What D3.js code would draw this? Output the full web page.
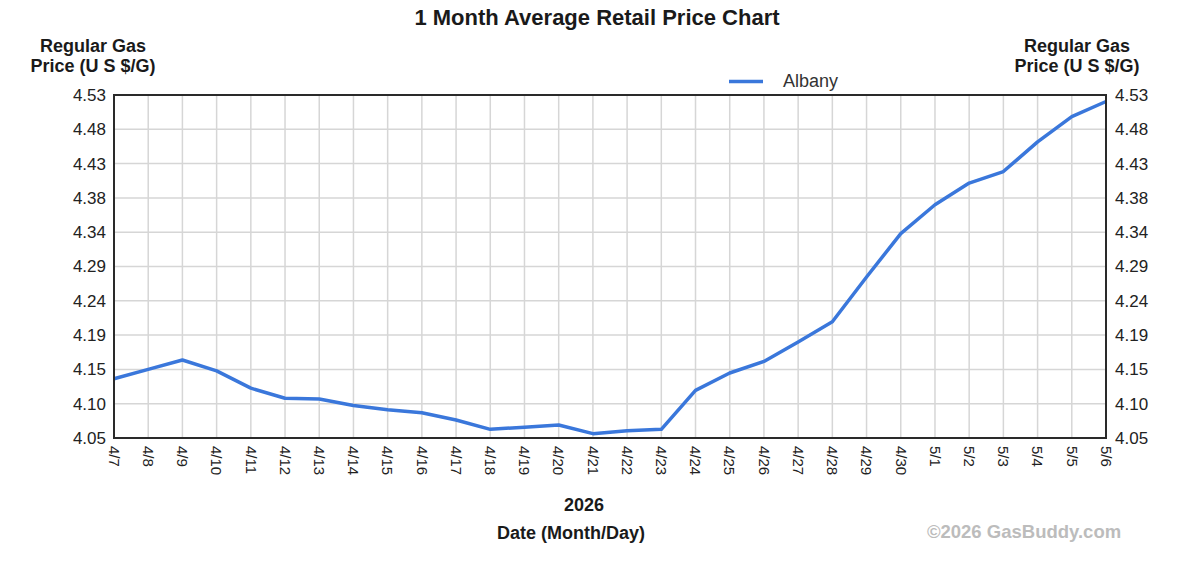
<!DOCTYPE html>
<html>
<head>
<meta charset="utf-8">
<script src="https://cdn.jsdelivr.net/npm/d3@7"></script>
<style>
  html, body { margin: 0; padding: 0; background: #fff; }
  svg { display: block; font-family: "Liberation Sans", Arial, sans-serif; }
</style>
</head>
<body>
<svg id="chart" width="1200" height="572"></svg>
<script>
const dates = ["4/7","4/8","4/9","4/10","4/11","4/12","4/13","4/14","4/15","4/16","4/17","4/18","4/19","4/20","4/21","4/22","4/23","4/24","4/25","4/26","4/27","4/28","4/29","4/30","5/1","5/2","5/3","5/4","5/5","5/6"];
const albany = [4.132,4.145,4.158,4.143,4.119,4.105,4.104,4.095,4.089,4.085,4.075,4.062,4.065,4.068,4.056,4.060,4.062,4.116,4.140,4.156,4.183,4.211,4.273,4.333,4.373,4.403,4.419,4.460,4.495,4.516];
const yTickLabels = ["4.05","4.10","4.15","4.19","4.24","4.29","4.34","4.38","4.43","4.48","4.53"];
const yMin = 4.05, yMax = 4.525;
const seriesName = "Albany";
const title = "1 Month Average Retail Price Chart";
const yAxisTitle = ["Regular Gas", "Price (U S $/G)"];
const yearLabel = "2026";
const xAxisTitle = "Date (Month/Day)";
const credit = "\u00A92026 GasBuddy.com";

const svg = d3.select("#chart");
const L = 114, R = 1106, T = 95, B = 438;
const lineColor = "#3a77db";

const x = d3.scalePoint().domain(dates).range([L, R]);
const y = d3.scaleLinear().domain([yMin, yMax]).range([B, T]);
const step = (yMax - yMin) / (yTickLabels.length - 1);
const yTicks = yTickLabels.map((lab, i) => ({ v: yMin + i * step, lab }));

// grid
const grid = svg.append("g");
grid.selectAll("line.v").data(dates).join("line")
  .attr("x1", d => x(d)).attr("x2", d => x(d))
  .attr("y1", T).attr("y2", B)
  .attr("stroke", "#d6d6d6").attr("stroke-width", 1.5);
grid.selectAll("line.h").data(yTicks).join("line")
  .attr("x1", L).attr("x2", R)
  .attr("y1", d => y(d.v)).attr("y2", d => y(d.v))
  .attr("stroke", "#d6d6d6").attr("stroke-width", 1.5);

// line
const line = d3.line().x((d, i) => x(dates[i])).y(d => y(d));
svg.append("path").datum(albany)
  .attr("d", line).attr("fill", "none")
  .attr("stroke", lineColor).attr("stroke-width", 3.5)
  .attr("stroke-linejoin", "round");

// border
svg.append("rect").attr("x", L).attr("y", T).attr("width", R - L).attr("height", B - T)
  .attr("fill", "none").attr("stroke", "#2a2a2a").attr("stroke-width", 2);

// y tick labels
const yl = svg.append("g").attr("font-size", 17).attr("fill", "#222");
yl.selectAll("text.l").data(yTicks).join("text")
  .attr("x", 106).attr("y", d => y(d.v)).attr("dy", "0.35em")
  .attr("text-anchor", "end").text(d => d.lab);
yl.selectAll("text.r").data(yTicks).join("text")
  .attr("x", 1115).attr("y", d => y(d.v)).attr("dy", "0.35em")
  .attr("text-anchor", "start").text(d => d.lab);

// x tick labels rotated
svg.append("g").attr("font-size", 15).attr("fill", "#222")
  .selectAll("text").data(dates).join("text")
  .attr("transform", d => `translate(${x(d)},${B + 8}) rotate(90)`)
  .attr("dy", "0.35em").attr("text-anchor", "start").text(d => d);

// title
svg.append("text").attr("x", 597).attr("y", 25).attr("text-anchor", "middle")
  .attr("font-size", 22).attr("font-weight", "bold").attr("fill", "#1a1a1a").text(title);

// axis titles
[93, 1077].forEach(cx => {
  yAxisTitle.forEach((t, i) => {
    svg.append("text").attr("x", cx).attr("y", 52 + i * 20).attr("text-anchor", "middle")
      .attr("font-size", 18).attr("font-weight", "bold").attr("fill", "#1a1a1a").text(t);
  });
});

// legend
svg.append("line").attr("x1", 729).attr("x2", 763).attr("y1", 81.5).attr("y2", 81.5)
  .attr("stroke", lineColor).attr("stroke-width", 3.5);
svg.append("text").attr("x", 783).attr("y", 86.5).attr("font-size", 18).attr("fill", "#333").text(seriesName);

// x titles
svg.append("text").attr("x", 584).attr("y", 511).attr("text-anchor", "middle")
  .attr("font-size", 18).attr("font-weight", "bold").attr("fill", "#1a1a1a").text(yearLabel);
svg.append("text").attr("x", 571).attr("y", 539).attr("text-anchor", "middle")
  .attr("font-size", 18).attr("font-weight", "bold").attr("fill", "#1a1a1a").text(xAxisTitle);

// credit
svg.append("text").attr("x", 1024).attr("y", 538).attr("text-anchor", "middle")
  .attr("font-size", 18.5).attr("font-weight", "bold").attr("fill", "#bcbcbc").text(credit);
</script>
</body>
</html>
